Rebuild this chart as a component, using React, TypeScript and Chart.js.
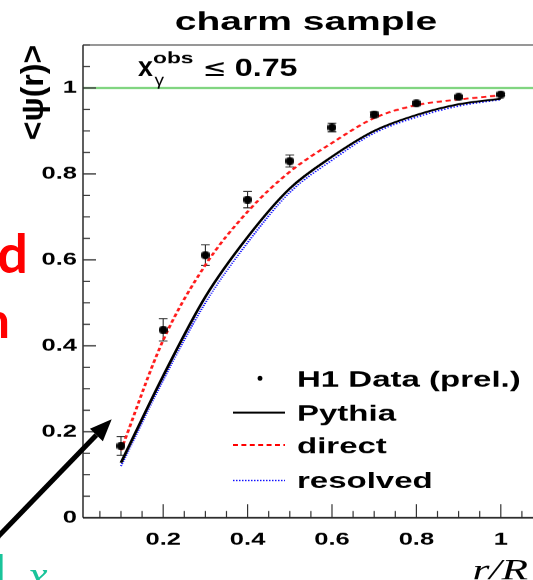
import React, { useEffect, useRef } from 'react';
import { Chart, registerables } from 'chart.js';

Chart.register(...registerables);

// ---------- data ----------
const R_VALUES = [0.1, 0.2, 0.3, 0.4, 0.5, 0.6, 0.7, 0.8, 0.9, 1.0];
const DATA_PSI = [0.167, 0.437, 0.611, 0.74, 0.83, 0.908, 0.938, 0.964, 0.979, 0.985];
const DATA_ERR = [0.022, 0.026, 0.024, 0.019, 0.014, 0.01, 0.006, 0.004, 0.003, 0.003];
const PYTHIA = [0.128, 0.33, 0.514, 0.653, 0.766, 0.84, 0.9, 0.937, 0.962, 0.975];
const DIRECT = [0.157, 0.413, 0.588, 0.712, 0.805, 0.872, 0.93, 0.96, 0.973, 0.983];
const RESOLVED = [0.12, 0.32, 0.5, 0.64, 0.757, 0.832, 0.895, 0.932, 0.958, 0.973];

const X_TICKS = [0.2, 0.4, 0.6, 0.8, 1];
const Y_TICKS = [0, 0.2, 0.4, 0.6, 0.8, 1];
const MINOR_STEP = 0.05;
const X_MIN = 0.01;
const X_MAX = 1.1;
const Y_MIN = 0;
const Y_MAX = 1.1;
const REF_LINE = 1;

const TITLE = 'charm sample';
const Y_TITLE = '<\u03C8(r)>';
const X_TITLE = 'r/R';
const LEGEND = ['H1 Data (prel.)', 'Pythia', 'direct', 'resolved'];

// ---------- layout ----------
const SX = 1.5; // horizontal stretch of the whole figure
const VIEW_W = 533;
const VIEW_H = 580;
const CANVAS_CSS_W = 567;
const CHART_W = CANVAS_CSS_W / SX;
const AREA_LEFT = 83 / SX;
const AREA_RIGHT = 543 / SX;
const AREA_TOP = 45;
const AREA_BOTTOM = 517.7;
const FONT = "'Liberation Sans', Arial, sans-serif";
const SERIF = "'Liberation Serif', 'Times New Roman', serif";

function minorValues(min: number, max: number) {
  const out: number[] = [];
  for (let k = Math.ceil(min / MINOR_STEP); k * MINOR_STEP <= max + 1e-9; k++) {
    out.push(+(k * MINOR_STEP).toFixed(4));
  }
  return out;
}

function isMajor(v: number, majors: number[]) {
  return majors.some((m) => Math.abs(m - v) < 1e-6);
}

function squeezedText(ctx: any, text: string, x: number, y: number, font: string, kx: number) {
  ctx.save();
  ctx.translate(x, y);
  ctx.scale(kx, 1);
  ctx.font = font;
  ctx.fillText(text, 0, 0);
  ctx.restore();
}

const rootStyle = {
  id: 'rootStyle',
  beforeDatasetsDraw(chart: any) {
    const { ctx, chartArea: a, scales } = chart;
    const x = scales.x;
    const y = scales.y;
    ctx.save();
    // reference line
    const yr = y.getPixelForValue(REF_LINE);
    ctx.strokeStyle = '#6fcf6f';
    ctx.lineWidth = 2;
    ctx.beginPath();
    ctx.moveTo(a.left, yr);
    ctx.lineTo(a.right, yr);
    ctx.stroke();

    // frame
    ctx.strokeStyle = '#111';
    ctx.lineWidth = 0.9;
    ctx.beginPath();
    ctx.moveTo(a.left, a.top);
    ctx.lineTo(a.left, a.bottom);
    ctx.stroke();
    ctx.lineWidth = 1.5;
    ctx.beginPath();
    ctx.moveTo(a.left, a.bottom);
    ctx.lineTo(a.right, a.bottom);
    ctx.stroke();
    ctx.lineWidth = 1;
    ctx.beginPath();
    ctx.moveTo(a.left, a.top);
    ctx.lineTo(a.right, a.top);
    ctx.stroke();

    // ticks (inside the frame)
    ctx.strokeStyle = '#333';
    ctx.lineWidth = 1.2;
    for (const v of minorValues(Y_MIN, Y_MAX)) {
      if (v <= Y_MIN) continue;
      const py = y.getPixelForValue(v);
      const len = isMajor(v, Y_TICKS) ? 13 / SX : 7 / SX;
      ctx.beginPath();
      ctx.moveTo(a.left, py);
      ctx.lineTo(a.left + len, py);
      ctx.stroke();
    }
    ctx.lineWidth = 0.8;
    for (const v of minorValues(X_MIN, X_MAX)) {
      const px = x.getPixelForValue(v);
      const len = isMajor(v, X_TICKS) ? 13.5 : 6.7;
      ctx.beginPath();
      ctx.moveTo(px, a.bottom);
      ctx.lineTo(px, a.bottom - len);
      ctx.stroke();
    }

    // error bars
    ctx.strokeStyle = '#222';
    R_VALUES.forEach((r, i) => {
      const px = x.getPixelForValue(r);
      const lo = y.getPixelForValue(DATA_PSI[i] - DATA_ERR[i]);
      const hi = y.getPixelForValue(DATA_PSI[i] + DATA_ERR[i]);
      const cap = 2.9;
      ctx.lineWidth = 0.7;
      ctx.beginPath();
      ctx.moveTo(px, lo);
      ctx.lineTo(px, hi);
      ctx.stroke();
      ctx.lineWidth = 1;
      ctx.beginPath();
      ctx.moveTo(px - cap, lo);
      ctx.lineTo(px + cap, lo);
      ctx.moveTo(px - cap, hi);
      ctx.lineTo(px + cap, hi);
      ctx.stroke();
    });
    ctx.restore();
  },
  afterDraw(chart: any) {
    const { ctx } = chart;
    ctx.save();
    ctx.fillStyle = '#000';

    // title
    ctx.font = `bold 26px ${FONT}`;
    ctx.textAlign = 'center';
    ctx.textBaseline = 'alphabetic';
    ctx.fillText(TITLE, 306 / SX, 30);

    // x_gamma^obs <= 0.75
    ctx.textAlign = 'left';
    squeezedText(ctx, 'x', 92, 76, `bold 27px ${FONT}`, 0.66);
    squeezedText(ctx, 'obs', 102, 63, `bold 16px ${FONT}`, 0.95);
    squeezedText(ctx, '\u03B3', 103, 85, `16px ${FONT}`, 0.8);
    squeezedText(ctx, '\u2264', 135, 76, `24px 'DejaVu Sans', ${FONT}`, 0.8);
    squeezedText(ctx, '0.75', 156.5, 76, `bold 25px ${FONT}`, 0.86);

    // y title (rotated, not stretched)
    ctx.save();
    ctx.translate(34 / SX, 92.5);
    ctx.scale(1 / SX, 1);
    ctx.rotate(-Math.PI / 2);
    ctx.font = `bold 32px ${FONT}`;
    ctx.textAlign = 'center';
    ctx.textBaseline = 'middle';
    ctx.fillText(Y_TITLE, 0, 0);
    ctx.restore();

    // x title
    ctx.font = `italic 29px ${SERIF}`;
    ctx.textAlign = 'right';
    ctx.textBaseline = 'alphabetic';
    ctx.fillText(X_TITLE, 528 / SX, 579);

    // legend
    const lx0 = 233 / SX;
    const lx1 = 285 / SX;
    const tx = 297 / SX;
    const rowsY = [378.3, 412.7, 445, 480.5];
    const base = [386.7, 420.7, 453.3, 488.3];
    ctx.beginPath();
    ctx.ellipse(260 / SX, rowsY[0], 1.6, 2.4, 0, 0, Math.PI * 2);
    ctx.fill();
    ctx.lineWidth = 2;
    ctx.strokeStyle = '#000';
    ctx.beginPath();
    ctx.moveTo(lx0, rowsY[1]);
    ctx.lineTo(lx1, rowsY[1]);
    ctx.stroke();
    ctx.strokeStyle = '#ff0000';
    ctx.setLineDash([3.3, 2.3]);
    ctx.beginPath();
    ctx.moveTo(lx0, rowsY[2]);
    ctx.lineTo(lx1, rowsY[2]);
    ctx.stroke();
    ctx.strokeStyle = '#0000ff';
    ctx.lineWidth = 1.3;
    ctx.setLineDash([1, 1]);
    ctx.beginPath();
    ctx.moveTo(lx0, rowsY[3]);
    ctx.lineTo(lx1, rowsY[3]);
    ctx.stroke();
    ctx.setLineDash([]);
    ctx.font = `bold 22px ${FONT}`;
    ctx.textAlign = 'left';
    LEGEND.forEach((t, i) => ctx.fillText(t, tx, base[i]));

    ctx.restore();
  },
};

function makeDot() {
  const c = document.createElement('canvas');
  c.width = 6;
  c.height = 8;
  const g = c.getContext('2d')!;
  g.fillStyle = '#000';
  g.beginPath();
  g.ellipse(3, 4, 3, 4, 0, 0, Math.PI * 2);
  g.fill();
  return c;
}

const pts = (ys: number[]) => R_VALUES.map((r, i) => ({ x: r, y: ys[i] }));

export default function App() {
  const ref = useRef<HTMLCanvasElement | null>(null);

  useEffect(() => {
    const canvas = ref.current;
    if (!canvas) return;
    document.body.style.margin = '0';
    document.body.style.overflow = 'hidden';
    const tickFont = { family: FONT, size: 17, weight: 'bold' as const };
    const curve = {
      pointRadius: 0,
      fill: false,
      cubicInterpolationMode: 'monotone' as const,
    };
    const chart = new Chart(canvas, {
      type: 'line',
      data: {
        datasets: [
          {
            label: LEGEND[0],
            data: pts(DATA_PSI),
            showLine: false,
            pointStyle: makeDot() as any,
            pointRadius: 4,
            borderColor: '#000',
            backgroundColor: '#000',
          },
          { label: LEGEND[2], data: pts(DIRECT), borderColor: '#ff1a1a', borderWidth: 1.9, borderDash: [3.5, 2.5], ...curve },
          { label: LEGEND[1], data: pts(PYTHIA), borderColor: '#000', borderWidth: 1.9, ...curve },
          { label: LEGEND[3], data: pts(RESOLVED), borderColor: '#0000ff', borderWidth: 1.4, borderDash: [1, 1.2], ...curve },
        ],
      },
      options: {
        animation: false,
        responsive: false,
        devicePixelRatio: SX,
        events: [],
        layout: { padding: { top: AREA_TOP, right: CHART_W - AREA_RIGHT, left: 0, bottom: 0 } },
        plugins: { legend: { display: false }, title: { display: false }, tooltip: { enabled: false } },
        scales: {
          x: {
            type: 'linear',
            min: X_MIN,
            max: X_MAX,
            grid: { display: false, drawTicks: false },
            border: { display: false },
            ticks: { font: tickFont, color: '#000', padding: 12, maxRotation: 0, autoSkip: false, callback: (v: any) => String(v) },
            afterBuildTicks: (s: any) => {
              s.ticks = X_TICKS.map((v) => ({ value: v }));
            },
            afterFit: (s: any) => {
              s.height = VIEW_H - AREA_BOTTOM;
            },
          },
          y: {
            type: 'linear',
            min: Y_MIN,
            max: Y_MAX,
            grid: { display: false, drawTicks: false },
            border: { display: false },
            ticks: { font: tickFont, color: '#000', padding: 4, autoSkip: false, callback: (v: any) => String(v) },
            afterBuildTicks: (s: any) => {
              s.ticks = Y_TICKS.map((v) => ({ value: v }));
            },
            afterFit: (s: any) => {
              s.width = AREA_LEFT;
            },
          },
        },
      },
      plugins: [rootStyle],
    } as any);
    return () => chart.destroy();
  }, []);

  // slide arrow geometry (overlay)
  const tip = [111.7, 419.3];
  const start = [-10, 545];
  const dx = tip[0] - start[0];
  const dy = tip[1] - start[1];
  const len = Math.hypot(dx, dy);
  const ux = dx / len;
  const uy = dy / len;
  const bx = tip[0] - 22 * ux;
  const by = tip[1] - 22 * uy;
  const px = -uy;
  const py = ux;

  return (
    <div style={{ position: 'fixed', left: 0, top: 0, width: VIEW_W, height: VIEW_H, overflow: 'hidden', background: '#fff' }}>
      <canvas
        ref={ref}
        width={CHART_W}
        height={VIEW_H}
        style={{ position: 'absolute', left: 0, top: 0, width: CANVAS_CSS_W, height: VIEW_H, display: 'block' }}
      />
      <svg width={VIEW_W} height={VIEW_H} style={{ position: 'absolute', left: 0, top: 0, pointerEvents: 'none' }}>
        <text x={28} y={273} textAnchor="end" fontFamily="Lato, 'Open Sans', sans-serif" fontWeight="bold" fontSize={54} fill="#ff0000">d</text>
        <text x={10} y={338} textAnchor="end" fontFamily="Lato, 'Open Sans', sans-serif" fontWeight="bold" fontSize={50} fill="#ff0000">n</text>
        <text x={6} y={594} textAnchor="end" fontFamily="Lato, 'Open Sans', sans-serif" fontWeight="bold" fontSize={54} fill="#19c49a">l</text>
        <text x={28} y={590} fontFamily="'Liberation Serif', serif" fontStyle="italic" fontSize={44} fill="#19c49a">x</text>
        <line x1={start[0]} y1={start[1]} x2={bx} y2={by} stroke="#000" strokeWidth={5} />
        <polygon
          points={`${tip[0]},${tip[1]} ${bx + 9 * px},${by + 9 * py} ${bx - 9 * px},${by - 9 * py}`}
          fill="#000"
        />
      </svg>
    </div>
  );
}
